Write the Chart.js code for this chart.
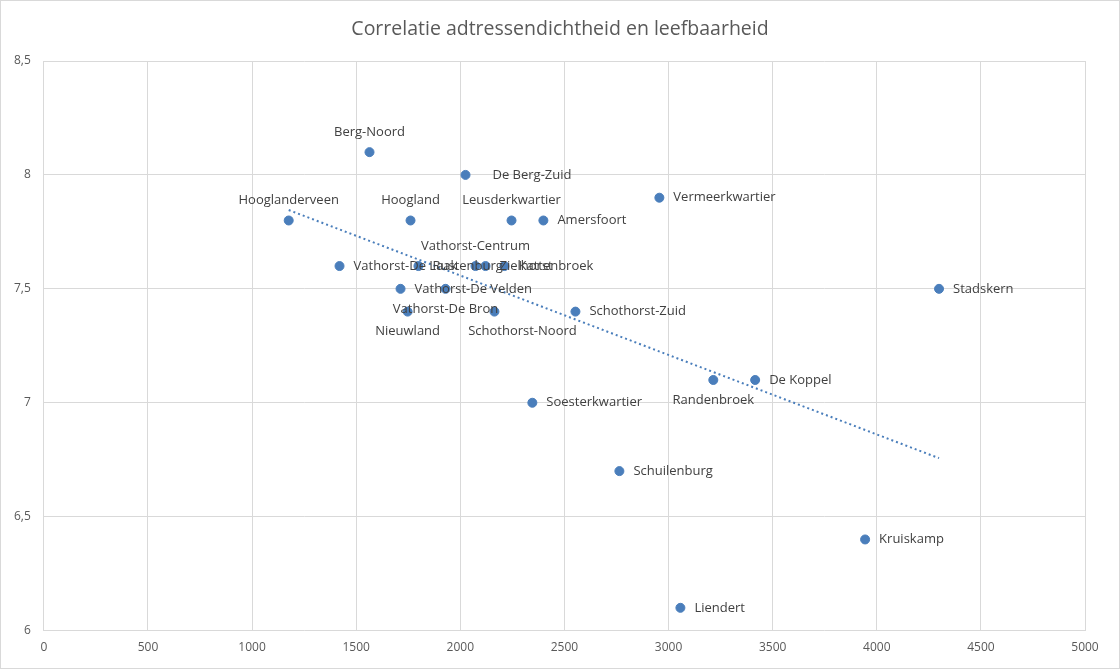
<!DOCTYPE html>
<html>
<head>
<meta charset="utf-8">
<script src="https://cdn.jsdelivr.net/npm/chart.js@4"></script>
<style>
  html, body { margin: 0; padding: 0; background: #fff; }
  #wrap { width: 1118px; height: 667px; border: 1px solid #d9d9d9; }
</style>
</head>
<body>
<div id="wrap"><canvas id="chart"></canvas></div>
<script>
// buurten en hun waarden
const wijken = ["Berg-Noord", "De Berg-Zuid", "Vermeerkwartier", "Hooglanderveen", "Hoogland",
  "Leusderkwartier", "Amersfoort", "Vathorst-De Laak", "Rustenburg", "Vathorst-Centrum",
  "Zielhorst", "Kattenbroek", "Stadskern", "Vathorst-De Velden", "Vathorst-De Bron",
  "Nieuwland", "Schothorst-Noord", "Schothorst-Zuid", "Randenbroek", "De Koppel",
  "Soesterkwartier", "Schuilenburg", "Kruiskamp", "Liendert"];
const adressendichtheid = [1564, 2025, 2956, 1176, 1761, 2246, 2399, 1420, 1799, 2073,
  2121, 2212, 4299, 1713, 1929, 1747, 2164, 2553, 3215, 3416, 2346, 2764, 3944, 3057];
const leefbaarheid = [8.1, 8.0, 7.9, 7.8, 7.8, 7.8, 7.8, 7.6, 7.6, 7.6,
  7.6, 7.6, 7.5, 7.5, 7.5, 7.4, 7.4, 7.4, 7.1, 7.1, 7.0, 6.7, 6.4, 6.1];
const xTicks = [0, 500, 1000, 1500, 2000, 2500, 3000, 3500, 4000, 4500, 5000];
const yTicks = [6, 6.5, 7, 7.5, 8, 8.5];
const titel = "Correlatie adtressendichtheid en leefbaarheid";

// plek van het label t.o.v. de stip (extra verschuiving in px)
const labelPlek = ["above", "right", "right", "above", "above", "above", "right", "right", "right", "above",
  "right", "right", "right", "right", "below", "below", "below", "right", "below", "right",
  "right", "right", "right", "right"];
const labelDx = {1: 13, 16: 28};

const blauw = "#4A7EBB";
const fontFam = "'Open Sans', 'Noto Sans', sans-serif";

// lineaire trendlijn (kleinste kwadraten)
const n = adressendichtheid.length;
const mx = adressendichtheid.reduce((a, b) => a + b, 0) / n;
const my = leefbaarheid.reduce((a, b) => a + b, 0) / n;
let sxy = 0, sxx = 0;
for (let i = 0; i < n; i++) {
  sxy += (adressendichtheid[i] - mx) * (leefbaarheid[i] - my);
  sxx += (adressendichtheid[i] - mx) ** 2;
}
const helling = sxy / sxx;
const xMin = Math.min(...adressendichtheid), xMax = Math.max(...adressendichtheid);
const trend = [xMin, xMax].map(x => ({ x: x, y: my + helling * (x - mx) }));

const punten = adressendichtheid.map((x, i) => ({ x: x, y: leefbaarheid[i] }));

const labelPlugin = {
  id: "labels",
  afterDatasetsDraw(chart) {
    const ctx = chart.ctx;
    const meta = chart.getDatasetMeta(0);
    ctx.save();
    ctx.font = "13px " + fontFam;
    ctx.fillStyle = "#404040";
    ctx.textBaseline = "middle";
    meta.data.forEach((el, i) => {
      const p = labelPlek[i];
      const dx = labelDx[i] || 0;
      if (p === "right") {
        ctx.textAlign = "left";
        ctx.fillText(wijken[i], el.x + 14 + dx, el.y);
      } else if (p === "above") {
        ctx.textAlign = "center";
        ctx.fillText(wijken[i], el.x + dx, el.y - 20);
      } else {
        ctx.textAlign = "center";
        ctx.fillText(wijken[i], el.x + dx, el.y + 20);
      }
    });
    // titel gecentreerd over de hele breedte
    ctx.font = "19.5px " + fontFam;
    ctx.fillStyle = "#595959";
    ctx.textAlign = "center";
    ctx.fillText(titel, chart.width / 2, 28);
    ctx.restore();
  }
};

new Chart(document.getElementById("chart"), {
  type: "scatter",
  data: {
    datasets: [{
      label: "Leefbaarheid",
      data: punten,
      backgroundColor: blauw,
      borderColor: blauw,
      pointRadius: 4.5,
      pointHoverRadius: 4.5
    }, {
      label: "Trend",
      type: "line",
      data: trend,
      borderColor: blauw,
      borderWidth: 2,
      borderDash: [2, 3],
      pointRadius: 0,
      fill: false
    }]
  },
  options: {
    responsive: true,
    maintainAspectRatio: false,
    animation: false,
    layout: { padding: { left: 0, right: 34, top: 60, bottom: 3 } },
    plugins: {
      legend: { display: false },
      tooltip: { enabled: false },
      title: { display: false }
    },
    scales: {
      x: {
        type: "linear",
        min: 0, max: 5000,
        afterBuildTicks: axis => { axis.ticks = xTicks.map(v => ({ value: v })); },
        grid: { color: "#d9d9d9", drawTicks: false },
        border: { display: false },
        ticks: { color: "#595959", font: { family: fontFam, size: 12 }, padding: 10, callback: v => String(v) }
      },
      y: {
        min: 6, max: 8.5,
        afterBuildTicks: axis => { axis.ticks = yTicks.map(v => ({ value: v })); },
        grid: { color: "#d9d9d9", drawTicks: false },
        border: { display: false },
        ticks: {
          color: "#595959",
          font: { family: fontFam, size: 12 },
          padding: 13,
          callback: v => String(v).replace(".", ",")
        }
      }
    }
  },
  plugins: [labelPlugin]
});
</script>
</body>
</html>
